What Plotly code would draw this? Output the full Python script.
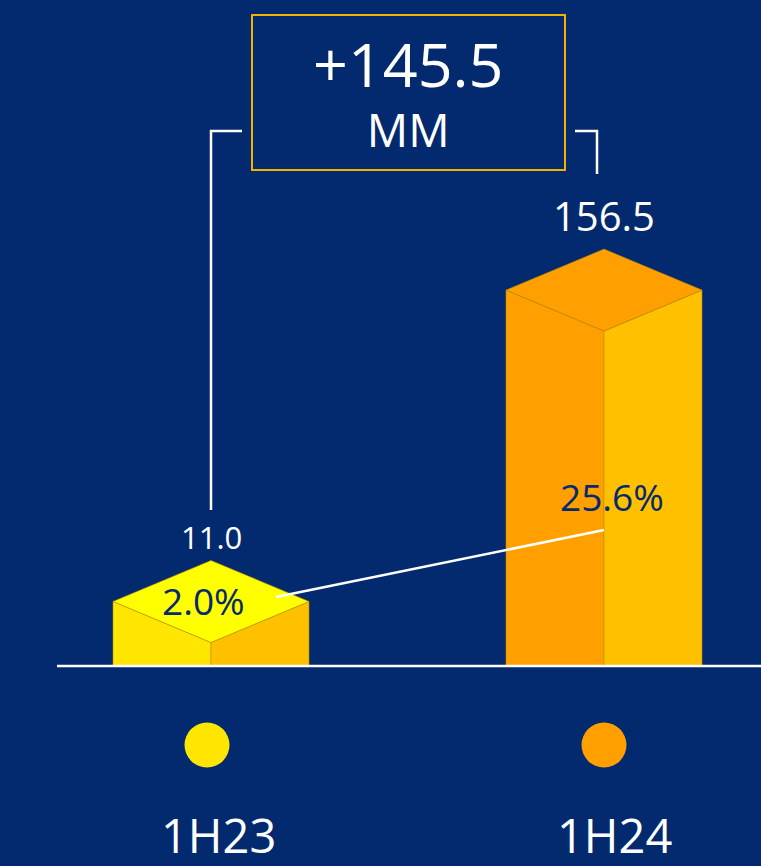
import plotly.graph_objects as go

# ---------------- data ----------------
categories = ["1H23", "1H24"]
values = [11.0, 156.5]
value_labels = ["11.0", "156.5"]
pct = [2.0, 25.6]
pct_labels = ["2.0%", "25.6%"]
delta_label = "+145.5"
unit_label = "MM"

# ---------------- style ----------------
BG = "#032A6E"
WHITE = "#FFFFFF"
GOLD = "#F2B300"
EDGE = "rgba(185,140,0,0.8)"
top_colors = ["#FFFF00", "#FFA000"]
left_colors = ["#FFE600", "#FFA000"]
right_colors = ["#FFC000", "#FFC000"]
dot_colors = ["#FFE600", "#FFA000"]
FONT = "Open Sans"

W, H = 761, 866
X0PX, XSTEP = 211, 393          # px of first category centre, px per category
BASE_PX, K = 666, 2.14          # baseline px, px per value unit
HALF_W = 98 / XSTEP             # half bar width (x units)
DEPTH = 41 / K                  # isometric depth (y units)

# percent axis (secondary) scale
P_BASE_PX, PK = 602.7, 2.84


def px(xp):
    return (xp - X0PX) / XSTEP


def py(yp):
    return (BASE_PX - yp) / K


fig = go.Figure()

# ---------------- 3D bars ----------------
for i, (cat, v) in enumerate(zip(categories, values)):
    x = i
    # left face
    fig.add_trace(go.Scatter(
        x=[x - HALF_W, x - HALF_W, x, x, x - HALF_W],
        y=[0, v + DEPTH, v, 0, 0],
        fill="toself", fillcolor=left_colors[i], mode="lines",
        line=dict(color=EDGE, width=0.7), hoverinfo="skip", showlegend=False))
    # right face
    fig.add_trace(go.Scatter(
        x=[x, x, x + HALF_W, x + HALF_W, x],
        y=[0, v, v + DEPTH, 0, 0],
        fill="toself", fillcolor=right_colors[i], mode="lines",
        line=dict(color=EDGE, width=0.7), hoverinfo="skip", showlegend=False))
    # top face
    fig.add_trace(go.Scatter(
        x=[x - HALF_W, x, x + HALF_W, x, x - HALF_W],
        y=[v + DEPTH, v + 2 * DEPTH, v + DEPTH, v, v + DEPTH],
        fill="toself", fillcolor=top_colors[i], mode="lines",
        line=dict(color=EDGE, width=0.7), hoverinfo="skip", showlegend=False))

# ---------------- percent connector ----------------
fig.add_trace(go.Scatter(
    x=[px(276), 1], y=pct, yaxis="y2", mode="lines",
    line=dict(color=WHITE, width=2.5), hoverinfo="skip", showlegend=False))

# ---------------- legend dots ----------------
dot_dx = [-4, 0]
fig.add_trace(go.Scatter(
    x=[i + dot_dx[i] / XSTEP for i in range(len(categories))],
    y=[py(745)] * len(categories), mode="markers",
    marker=dict(size=45, color=dot_colors, line=dict(width=0)),
    hoverinfo="skip", showlegend=False))

annotations = []
# value labels
val_size = [31, 40]
val_shift = [23, 34]
for i, v in enumerate(values):
    annotations.append(dict(
        x=i, y=v + 2 * DEPTH, text=value_labels[i], showarrow=False,
        yanchor="middle", yshift=val_shift[i],
        font=dict(family=FONT, size=val_size[i], color=WHITE)))

# percent labels
pct_dx = [-8, 8]
pct_dy = [-3, 34]
for i, p in enumerate(pct):
    annotations.append(dict(
        x=i, y=p, yref="y2", text=pct_labels[i], showarrow=False,
        xshift=pct_dx[i], yshift=pct_dy[i], yanchor="middle",
        font=dict(family=FONT, size=37, color=BG)))

# category labels
cat_dx = [7, 10]
for i, c in enumerate(categories):
    annotations.append(dict(
        x=i, y=py(835), text=c, showarrow=False, xshift=cat_dx[i],
        yanchor="middle", font=dict(family=FONT, size=47, color=WHITE)))

# delta box text (two lines in one text block)
annotations.append(dict(
    x=px(408), y=py(91), showarrow=False, yanchor="middle",
    text=f"<span style='font-size:61px'>{delta_label}</span><br>{unit_label}",
    font=dict(family=FONT, size=46, color=WHITE)))

shapes = [
    # baseline
    dict(type="line", x0=px(57), x1=px(761), y0=0, y1=0,
         line=dict(color=WHITE, width=2.5)),
    # delta box
    dict(type="rect", x0=px(252), x1=px(565), y0=py(15), y1=py(170),
         line=dict(color=GOLD, width=2)),
    # left bracket
    dict(type="path", path=f"M {0} {py(510)} L {0} {py(131)} L {px(242)} {py(131)}",
         line=dict(color=WHITE, width=2.5)),
    # right bracket
    dict(type="path", path=f"M {px(575)} {py(131)} L {px(597)} {py(131)} L {px(597)} {py(174)}",
         line=dict(color=WHITE, width=2.5)),
]

fig.update_layout(
    width=W, height=H,
    margin=dict(l=0, r=0, t=0, b=0),
    paper_bgcolor=BG, plot_bgcolor=BG,
    xaxis=dict(range=[px(0), px(W)], visible=False, fixedrange=True),
    yaxis=dict(range=[py(H), py(0)], visible=False, fixedrange=True),
    yaxis2=dict(range=[(P_BASE_PX - H) / PK, P_BASE_PX / PK], overlaying="y",
                visible=False, fixedrange=True),
    annotations=annotations, shapes=shapes, showlegend=False,
)

fig.write_html("out.html")
